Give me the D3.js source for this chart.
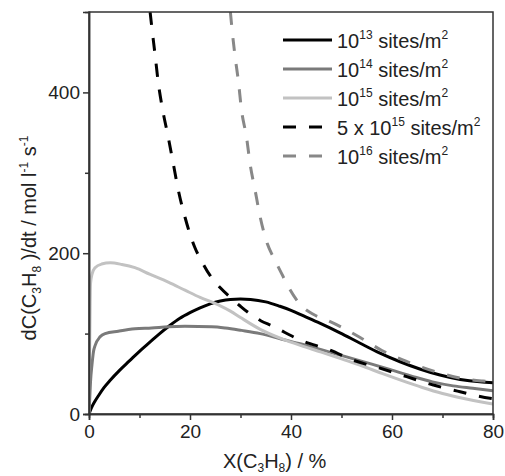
<!DOCTYPE html>
<html>
<head>
<meta charset="utf-8">
<script src="https://cdn.jsdelivr.net/npm/d3@7/dist/d3.min.js"></script>
<style>
  html, body { margin: 0; padding: 0; background: #fff; }
  svg { display: block; font-family: "Liberation Sans", Arial, sans-serif; }
</style>
</head>
<body>
<svg id="chart" width="505" height="476"></svg>
<script>
// Conversion X(C3H8) in %, rate dC/dt in mol l^-1 s^-1
const x13 = [0, 0.5, 1, 2, 3, 4.2, 6, 8, 10, 12, 14, 16, 18, 20, 22, 24, 26, 28, 30, 32, 35, 37.8, 40, 42.5, 45.7, 49.7, 53.7, 57.5, 61.6, 65.5, 69.5, 73.5, 77.4, 80];
const y13 = [0, 8, 14, 24, 33, 42, 54, 66, 78, 89, 100, 110, 119, 126, 132, 137, 140.5, 142.5, 143, 142.5, 139.5, 134, 129, 122, 113, 101, 88, 76, 65, 56, 48.5, 43, 40, 39];

const x14 = [0, 0.15, 0.3, 0.6, 0.9, 1.2, 2.2, 3.2, 5.8, 9.1, 12.4, 15.7, 19, 24.3, 27, 30.2, 33.9, 38.2, 42, 46, 51, 56, 60, 64.2, 68, 72.1, 76, 80];
const y14 = [0, 20, 40, 62, 78, 85, 96, 100, 103, 106, 107, 108.5, 109, 108.5, 107, 104, 100, 93, 87, 80, 71, 62, 54.5, 46.5, 40, 35, 32, 29];

const x15 = [0, 0.1, 0.2, 0.3, 0.6, 1.2, 2.5, 4.2, 6.5, 9.1, 12, 15.7, 19, 22, 24, 26, 28, 30, 34, 38, 42, 46, 50, 54, 58, 62, 66, 70, 74, 78, 80];
const y15 = [0, 60, 120, 162, 174, 182, 186.5, 188, 186, 182, 174, 164, 154, 145, 140, 134.5, 128, 120, 105, 94, 85, 77, 68.5, 60, 50.5, 41.5, 33, 25.5, 19.5, 14.5, 12.5];

const x5e15 = [12.1, 12.4, 13.1, 13.7, 14.6, 15.7, 16.7, 17.7, 19, 20.9, 22.4, 24, 26, 28, 30, 32, 34, 36.5, 38, 41.8, 47.7, 52.3, 57.6, 62.9, 68.2, 73.5, 79.4, 80];
const y5e15 = [500, 483, 446, 413, 378, 344, 311, 278, 245, 208, 189, 172, 157, 145, 134, 124, 116, 109, 104, 92, 79.5, 67, 57, 46.4, 36, 27.7, 19.5, 19];

const x16 = [28, 28.25, 28.9, 29.6, 30.2, 31.2, 31.9, 32.9, 33.9, 35.3, 36.5, 37.8, 39.5, 41.1, 42.7, 44.4, 47, 50, 54, 58, 62, 66, 70, 74, 78, 80];
const y16 = [500, 483, 446, 413, 378, 344, 311, 278, 245, 212, 195, 179, 158, 142, 131, 124, 117, 108, 94, 79, 67.5, 58, 50, 44, 41, 40];

const xTicks = [0, 20, 40, 60, 80];
const xMinor = [10, 30, 50, 70];
const yTicks = [0, 200, 400];
const yMinor = [100, 300];

const series = [
  { exp: "13", pre: "", xs: x13, ys: y13, color: "#000000", dash: null },
  { exp: "14", pre: "", xs: x14, ys: y14, color: "#7a7a7a", dash: null },
  { exp: "15", pre: "", xs: x15, ys: y15, color: "#c2c2c2", dash: null },
  { exp: "15", pre: "5 x ", xs: x5e15, ys: y5e15, color: "#000000", dash: "13,13" },
  { exp: "16", pre: "", xs: x16, ys: y16, color: "#888888", dash: "13,13" }
];

const svg = d3.select("#chart");
const W = 505, H = 476;
const m = { left: 89, right: 12, top: 12, bottom: 62 };
const iw = W - m.left - m.right, ih = H - m.top - m.bottom;

const x = d3.scaleLinear().domain([0, 80]).range([m.left, m.left + iw]);
const y = d3.scaleLinear().domain([0, 500]).range([m.top + ih, m.top]);

svg.append("defs").append("clipPath").attr("id", "plotclip")
  .append("rect").attr("x", m.left).attr("y", m.top).attr("width", iw).attr("height", ih);

// curves
const line = d3.line().x(d => x(d[0])).y(d => y(d[1])).curve(d3.curveMonotoneX);
const g = svg.append("g").attr("clip-path", "url(#plotclip)");
series.forEach(s => {
  const pts = s.xs.map((v, i) => [v, s.ys[i]]);
  g.append("path").datum(pts)
    .attr("d", line)
    .attr("fill", "none")
    .attr("stroke", s.color)
    .attr("stroke-width", 3)
    .attr("stroke-dasharray", s.dash)
    .attr("stroke-linejoin", "round");
});

// frame
const frameColor = "#333";
svg.append("rect").attr("x", m.left).attr("y", m.top).attr("width", iw).attr("height", ih)
  .attr("fill", "none").attr("stroke", frameColor).attr("stroke-width", 1.5);

// axes
const fontSize = 19;
svg.append("g").attr("transform", `translate(0,${m.top + ih})`)
  .call(d3.axisBottom(x).tickValues(xTicks).tickSize(6).tickPadding(5).tickFormat(d3.format("d")));
svg.append("g").attr("transform", `translate(0,${m.top + ih})`)
  .call(d3.axisBottom(x).tickValues(xMinor).tickSize(4).tickFormat(""));
svg.append("g").attr("transform", `translate(${m.left},0)`)
  .call(d3.axisLeft(y).tickValues(yTicks).tickSize(6).tickPadding(3).tickFormat(d3.format("d")));
svg.append("g").attr("transform", `translate(${m.left},0)`)
  .call(d3.axisLeft(y).tickValues(yMinor).tickSize(4).tickFormat(""));

svg.selectAll(".domain").attr("stroke", frameColor).attr("stroke-width", 1.5);
svg.selectAll(".tick line").attr("stroke", frameColor).attr("stroke-width", 1.5);
svg.selectAll(".tick text").attr("font-size", fontSize).attr("fill", "#222")
  .attr("font-family", "Liberation Sans, Arial, sans-serif");

// axis titles
const tFont = 20;
const xt = svg.append("text").attr("x", 223).attr("y", 468)
  .attr("font-size", tFont).attr("fill", "#222");
xt.append("tspan").text("X(C");
xt.append("tspan").attr("font-size", 12).attr("dy", 4).text("3");
xt.append("tspan").attr("dy", -4).text("H");
xt.append("tspan").attr("font-size", 12).attr("dy", 4).text("8");
xt.append("tspan").attr("dy", -4).text(") / %");

const yt = svg.append("text").attr("transform", "translate(36,238) rotate(-90)")
  .attr("text-anchor", "middle").attr("font-size", tFont).attr("fill", "#222");
yt.append("tspan").text("dC(C");
yt.append("tspan").attr("font-size", 12).attr("dy", 5).text("3");
yt.append("tspan").attr("dy", -5).text("H");
yt.append("tspan").attr("font-size", 12).attr("dy", 5).text("8");
yt.append("tspan").attr("dy", -5).text(" )/dt / mol l");
yt.append("tspan").attr("font-size", 12).attr("dy", -8).text("-1");
yt.append("tspan").attr("dy", 8).text(" s");
yt.append("tspan").attr("font-size", 12).attr("dy", -8).text("-1");

// legend
const lg = svg.append("g");
const ly0 = 40, lstep = 29;
series.forEach((s, i) => {
  const yy = ly0 + i * lstep;
  lg.append("line").attr("x1", 283).attr("x2", 332).attr("y1", yy).attr("y2", yy)
    .attr("stroke", s.color).attr("stroke-width", 3).attr("stroke-dasharray", s.dash);
  const t = lg.append("text").attr("x", 337).attr("y", yy + 8)
    .attr("font-size", tFont).attr("fill", "#222");
  t.append("tspan").text(s.pre + "10");
  t.append("tspan").attr("font-size", 12).attr("dy", -9).text(s.exp);
  t.append("tspan").attr("dy", 9).text(" sites/m");
  t.append("tspan").attr("font-size", 12).attr("dy", -9).text("2");
});
</script>
</body>
</html>
